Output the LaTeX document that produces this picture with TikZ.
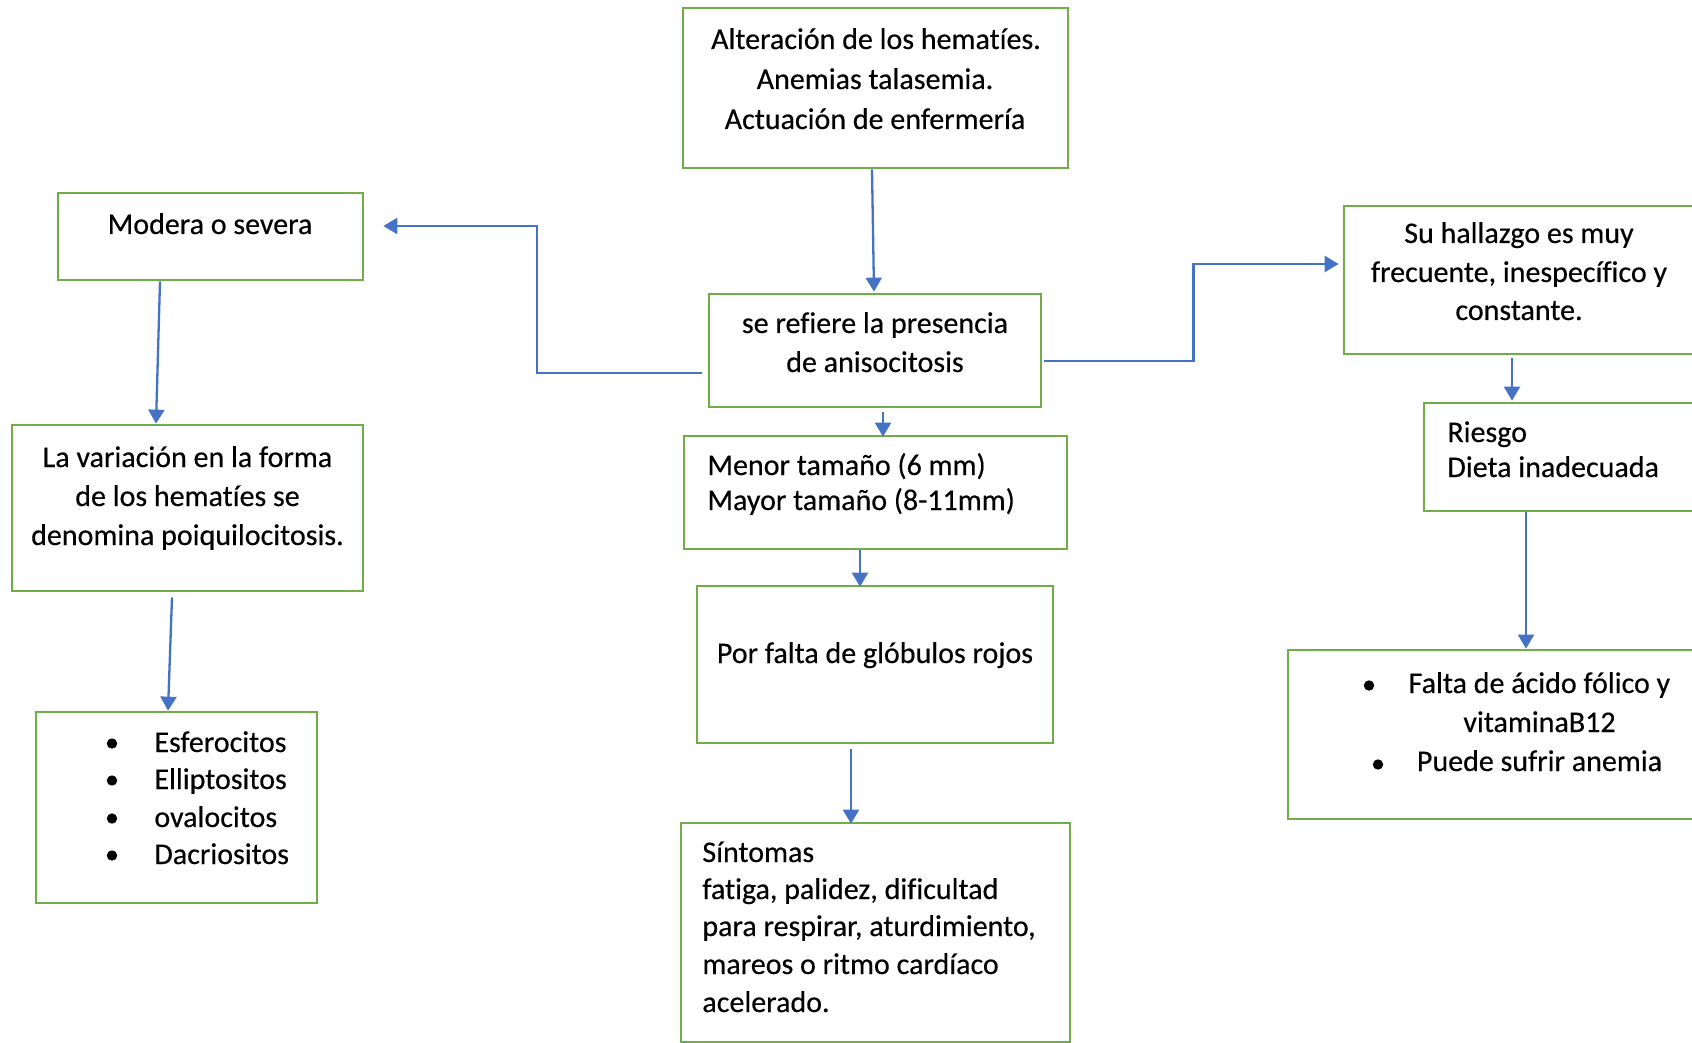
\documentclass[tikz,border=0pt]{standalone}
\usepackage{fontspec}
\setmainfont{Carlito}[Ligatures={NoCommon},FakeBold=0.35]
\usetikzlibrary{arrows.meta,fit}
\definecolor{boxgreen}{HTML}{70AD47}
\definecolor{arrblue}{HTML}{4472C4}
\begin{document}
\begin{tikzpicture}[x=0.5pt,y=-0.5pt,
  box/.style={draw=boxgreen,line width=1.35pt,inner sep=0pt,rectangle},
  arr/.style={draw=arrblue,line width=1.15pt,-{Triangle[length=7pt,width=8pt]}},
  txt/.style={inner sep=0pt,font=\fontsize{15}{18}\selectfont},
  bulletdot/.style={circle,fill=black,inner sep=0pt,minimum size=5.2pt}]
\useasboundingbox (0,0) rectangle (1692,1043);
\fill[white] (0,0) rectangle (1692,1043);

% boxes
\node[box,fit={(683,8)(1068,168)}] (alt) {};
\node[box,fit={(709,294)(1041,407)}] (ani) {};
\node[box,fit={(684,436)(1067,549)}] (menor) {};
\node[box,fit={(697,586)(1053,743)}] (por) {};
\node[box,fit={(681,823)(1070,1042)}] (sint) {};
\node[box,fit={(58,193)(363,280)}] (mod) {};
\node[box,fit={(12,425)(363,591)}] (var) {};
\node[box,fit={(36,712)(317,903)}] (bul) {};
\node[box,fit={(1344,206)(1700,354)}] (hall) {};
\node[box,fit={(1424,403)(1700,511)}] (ries) {};
\node[box,fit={(1288,650)(1700,819)}] (falta) {};

% texts
\node[txt,anchor=base] (alt1) at (876,49) {Alteración de los hematíes.};
\node[txt,anchor=base] (alt2) at (875,89) {Anemias talasemia.};
\node[txt,anchor=base] (alt3) at (875,129) {Actuación de enfermería};
\node[txt,anchor=base] (ani1) at (875,333) {se refiere la presencia};
\node[txt,anchor=base] (ani2) at (875,372) {de anisocitosis};
\node[txt,anchor=base west] (men1) at (707,475) {Menor tamaño (6 mm)};
\node[txt,anchor=base west] (men2) at (707,510) {Mayor tamaño (8-11mm)};
\node[txt,anchor=base] (por1) at (875,663) {Por falta de glóbulos rojos};
\node[txt,anchor=base west] (sin1) at (702,862) {Síntomas};
\node[txt,anchor=base west] (sin2) at (702,899) {fatiga, palidez, dificultad};
\node[txt,anchor=base west] (sin3) at (702,936) {para respirar, aturdimiento,};
\node[txt,anchor=base west] (sin4) at (702,974) {mareos o ritmo cardíaco};
\node[txt,anchor=base west] (sin5) at (702,1012) {acelerado.};
\node[txt,anchor=base] (mod1) at (210,234) {Modera o severa};
\node[txt,anchor=base] (var1) at (187.5,467) {La variación en la forma};
\node[txt,anchor=base] (var2) at (187.5,506) {de los hematíes se};
\node[txt,anchor=base] (var3) at (187.5,545) {denomina poiquilocitosis.};
\node[bulletdot] (bd1) at (112,743.5) {};
\node[bulletdot] (bd2) at (112,780.5) {};
\node[bulletdot] (bd3) at (112,818.5) {};
\node[bulletdot] (bd4) at (112,855.5) {};
\node[txt,anchor=base west] (bul1) at (154,752) {Esferocitos};
\node[txt,anchor=base west] (bul2) at (154,789) {Elliptositos};
\node[txt,anchor=base west] (bul3) at (154,827) {ovalocitos};
\node[txt,anchor=base west] (bul4) at (154,864) {Dacriositos};
\node[txt,anchor=base] (hal1) at (1519,243) {Su hallazgo es muy};
\node[txt,anchor=base] (hal2) at (1519,282) {frecuente, inespecífico y};
\node[txt,anchor=base] (hal3) at (1519,320) {constante.};
\node[txt,anchor=base west] (rie1) at (1447,442) {Riesgo};
\node[txt,anchor=base west] (rie2) at (1447,477) {Dieta inadecuada};
\node[bulletdot] (fd1) at (1369,685.5) {};
\node[bulletdot] (fd2) at (1378,764.5) {};
\node[txt,anchor=base] (fal1) at (1539.5,693) {Falta de ácido fólico y};
\node[txt,anchor=base] (fal2) at (1539.5,732) {vitaminaB12};
\node[txt,anchor=base] (fal3) at (1539.5,771) {Puede sufrir anemia};

% connectors
\draw[arr] ([xshift=-1.75pt]alt.south) -- ([xshift=-0.5pt,yshift=0.5pt]ani.north);
\draw[arr] ([xshift=-3pt,yshift=-11.25pt]ani.west) -- ++(-165,0) |- ([xshift=9.5pt,yshift=5.25pt]mod.east);
\draw[arr] ([xshift=1pt,yshift=-5.25pt]ani.east) -- ++(149,0) |- ([xshift=-2pt,yshift=8pt]hall.west);
\draw[arr] ([xshift=4pt,yshift=-2pt]ani.south) -- ([xshift=3.75pt,yshift=-1pt]menor.north);
\draw[arr] ([xshift=-7.75pt]menor.south) -- ([xshift=-7.5pt,yshift=-1pt]por.north);
\draw[arr] ([xshift=-12pt,yshift=-2.5pt]por.south) -- ([xshift=-12.25pt,yshift=-1pt]sint.north);
\draw[arr] ([xshift=-25.25pt]mod.south) -- ([xshift=-15.75pt]var.north);
\draw[arr] ([xshift=-7.75pt,yshift=-2.5pt]var.south) -- ([xshift=-4.25pt]bul.north);
\draw[arr] ([xshift=-5pt,yshift=-1.5pt]hall.south) -- ([xshift=-25pt,yshift=0.5pt]ries.north);
\draw[arr] ([xshift=-18pt]ries.south) -- ([xshift=16pt]falta.north);
\end{tikzpicture}
\end{document}
